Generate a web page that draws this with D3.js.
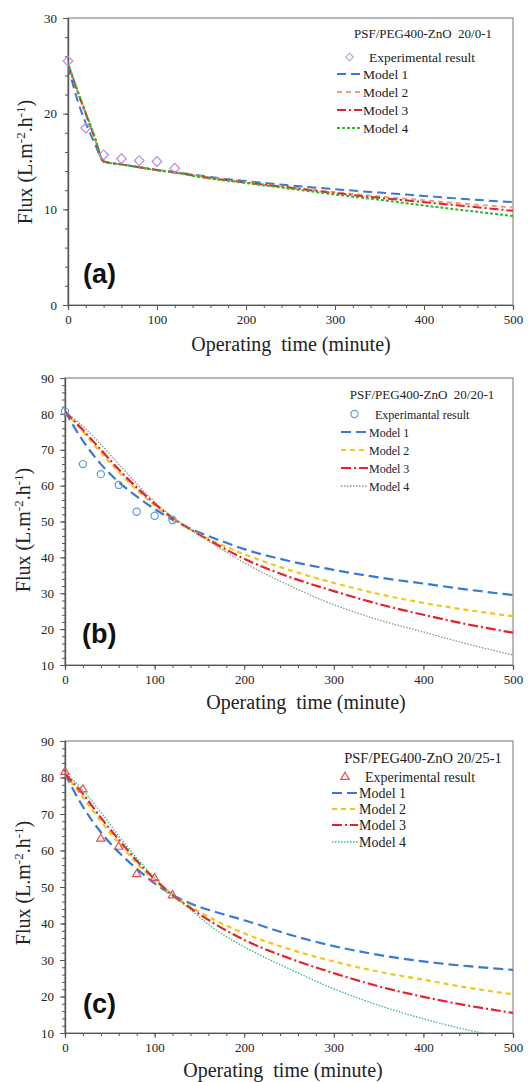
<!DOCTYPE html>
<meta charset="utf-8">
<style>
body{margin:0;background:#fff;}
svg text{font-family:"Liberation Serif","Times New Roman",serif;fill:#222;}
.plabel{font-family:"Liberation Sans",Arial,sans-serif !important;font-weight:bold;font-size:27px;fill:#111;}
</style>
<body>
<script src="https://cdnjs.cloudflare.com/ajax/libs/d3/7.8.5/d3.min.js"></script>
<script>

// panel (a) PSF/PEG400-ZnO 20/0-1
var expTimeA=[0,20,40,60,80,100,120];
var expFluxA=[25.5,18.5,15.7,15.3,15.1,15.0,14.3];
var modTimeA=[0,10,20,30,40,60,80,100,120,150,200,250,300,350,400,450,500];
var m1A=[25.0,21.6,19.0,16.9,15.0,14.7,14.4,14.1,13.9,13.5,12.95,12.5,12.1,11.75,11.4,11.05,10.75];
var m2A=[25.2,22.5,19.9,17.4,15.0,14.7,14.4,14.1,13.9,13.45,12.85,12.3,11.8,11.35,10.95,10.55,10.2];
var m3A=[25.2,22.5,20.0,17.5,15.0,14.7,14.4,14.1,13.85,13.4,12.8,12.25,11.7,11.2,10.75,10.3,9.85];
var m4A=[25.3,22.6,20.1,17.6,15.0,14.7,14.4,14.1,13.85,13.35,12.75,12.15,11.55,11.0,10.4,9.85,9.3];

// panel (b) PSF/PEG400-ZnO 20/20-1
var expTimeB=[0,20,40,60,80,100,120];
var expFluxB=[80.7,66.0,63.2,60.2,52.7,51.6,50.4];
var modTimeB=[0,20,40,60,80,100,120,140,170,200,250,300,350,400,450,500];
var m1B=[80.7,72.5,66.0,61.0,57.0,53.5,50.5,48.0,45.0,42.3,39.0,36.5,34.4,32.7,31.0,29.5];
var m2B=[80.7,75.0,69.2,63.8,58.8,54.5,50.8,47.8,44.0,40.9,36.5,32.9,29.8,27.3,25.3,23.6];
var m3B=[80.7,75.5,70.0,64.5,59.5,55.0,51.0,47.8,43.5,39.6,34.6,30.6,27.0,24.0,21.3,19.0];
var m4B=[80.7,76.5,71.5,66.0,60.5,55.5,51.3,47.8,43.0,38.5,32.2,26.8,22.6,19.2,15.8,12.8];

// panel (c) PSF/PEG400-ZnO 20/25-1
var expTimeC=[0,20,40,60,80,100,120];
var expFluxC=[81.5,76.7,63.2,61.0,53.5,52.4,47.7];
var modTimeC=[0,20,40,60,80,100,120,140,170,200,250,300,350,400,450,500];
var m1C=[81.0,72.0,65.0,59.5,55.0,51.0,47.8,45.5,43.0,40.9,37.0,33.8,31.4,29.6,28.3,27.3];
var m2C=[81.0,74.5,68.0,62.0,56.5,51.8,47.8,44.6,40.6,37.3,33.0,29.6,26.8,24.6,22.4,20.6];
var m3C=[81.0,75.5,69.0,63.0,57.2,52.2,47.8,44.2,39.5,35.5,30.5,26.4,22.8,19.9,17.5,15.5];
var m4C=[81.5,76.5,70.5,64.0,58.0,52.6,48.0,43.8,38.0,33.6,27.6,22.1,17.6,13.9,10.8,8.5];

var modelNames=["Model 1","Model 2","Model 3","Model 4"];
var serif="Liberation Serif, Times New Roman, serif";

var svg=d3.select("body").append("svg").attr("width",528).attr("height",1082);

var panels=[
 {id:"a",left:68,right:513,top:18,bottom:305,ydom:[0,30],
  title:"PSF/PEG400-ZnO  20/0-1",expName:"Experimental result",marker:"diamond",mcol:"#b98be0",
  et:expTimeA,ef:expFluxA,mt:modTimeA,models:[m1A,m2A,m3A,m4A],
  colors:["#3a78d6","#f0a070","#e8202a","#2fb52f"],
  dash:["9,5","5,4","9,3,2,3","3,2"],widths:[2,2,2,2],
  tx:423,ty:38,lx0:337,lx1:362,textX:363,rows:[57,74,92,110,128],fs:13.5,tfs:13,
  plx:83,ply:283,ylx:25,yly:162,xlx:291,xly:351},
 {id:"b",left:65,right:513,top:378,bottom:665,ydom:[10,90],
  title:"PSF/PEG400-ZnO  20/20-1",expName:"Experimantal result",marker:"circle",mcol:"#5b9bd5",
  et:expTimeB,ef:expFluxB,mt:modTimeB,models:[m1B,m2B,m3B,m4B],
  colors:["#3a78d6","#f5c518","#e8202a","#8a9a7a"],
  dash:["10,5","5,4","10,3,2,3","1.5,1.5"],widths:[2.2,2.2,2.2,1.3],
  tx:422,ty:399,lx0:341,lx1:368,textX:369,rows:[414,432,450,468,486],fs:12,tfs:13,
  plx:82,ply:643,ylx:23,yly:530,xlx:306,xly:709},
 {id:"c",left:65,right:513,top:741,bottom:1033,ydom:[10,90],
  title:"PSF/PEG400-ZnO 20/25-1",expName:"Experimental result",marker:"triangle",mcol:"#e0505a",
  et:expTimeC,ef:expFluxC,mt:modTimeC,models:[m1C,m2C,m3C,m4C],
  colors:["#3a78d6","#f5c518","#e8202a","#3cb878"],
  dash:["10,5","5,4","10,3,2,3","1.5,1.5"],widths:[2.2,2.2,2.2,1.3],
  tx:423,ty:763,lx0:332,lx1:358,textX:359,rows:[777,793,809,825,842],fs:14,tfs:14.5,
  plx:83,ply:1013,ylx:23,yly:883,xlx:283,xly:1077}
];

function addMarker(sel,type,col){
  var m;
  if(type=="diamond"){
    m=sel.append("rect").attr("x",-3.4).attr("y",-3.4).attr("width",6.8).attr("height",6.8)
      .attr("transform-origin","0 0");
  }else if(type=="triangle"){
    m=sel.append("path").attr("d",d3.symbol().type(d3.symbolTriangle).size(30)());
  }else{
    m=sel.append("circle").attr("r",3.6);
  }
  return m.attr("fill","none").attr("stroke",col).attr("stroke-width",1.2);
}

panels.forEach(function(p){
  var x=d3.scaleLinear().domain([0,500]).range([p.left,p.right]);
  var y=d3.scaleLinear().domain(p.ydom).range([p.bottom,p.top]);
  var g=svg.append("g");

  g.append("clipPath").attr("id","clip"+p.id).append("rect")
    .attr("x",p.left).attr("y",p.top).attr("width",p.right-p.left).attr("height",p.bottom-p.top);

  // frame
  g.append("rect").attr("x",p.left).attr("y",p.top).attr("width",p.right-p.left).attr("height",p.bottom-p.top)
    .attr("fill","none").attr("stroke","#8a8a8a").attr("stroke-width",1.2);

  // minor ticks
  var xm=d3.axisBottom(x).tickValues(d3.range(0,501,20)).tickSize(3).tickFormat("");
  var ym=d3.axisLeft(y).tickValues(d3.range(p.ydom[0],p.ydom[1]+1,2)).tickSize(3).tickFormat("");
  g.append("g").attr("transform","translate(0,"+p.bottom+")").call(xm);
  g.append("g").attr("transform","translate("+p.left+",0)").call(ym);

  var xa=d3.axisBottom(x).tickValues(d3.range(0,501,100)).tickSize(5).tickPadding(5);
  var ya=d3.axisLeft(y).tickValues(d3.range(p.ydom[0],p.ydom[1]+1,10)).tickSize(5).tickPadding(6);
  g.append("g").attr("transform","translate(0,"+p.bottom+")").call(xa);
  g.append("g").attr("transform","translate("+p.left+",0)").call(ya);
  g.selectAll(".domain").attr("stroke","#555").attr("stroke-width",1.2);
  g.selectAll(".tick line").attr("stroke","#555");
  g.selectAll(".tick text").attr("font-family",serif).attr("font-size",13).attr("fill","#222");

  // model lines
  var line=d3.line().x((d,i)=>x(p.mt[i])).y(d=>y(d)).curve(d3.curveMonotoneX);
  var lg=g.append("g").attr("clip-path","url(#clip"+p.id+")");
  p.models.forEach(function(m,k){
    lg.append("path").attr("d",line(m)).attr("fill","none")
      .attr("stroke",p.colors[k]).attr("stroke-width",p.widths[k])
      .attr("stroke-dasharray",p.dash[k]);
  });

  // experimental points
  p.ef.forEach(function(d,i){
    var pg=g.append("g").attr("transform","translate("+x(p.et[i])+","+y(d)+")");
    var mk=addMarker(pg,p.marker,p.mcol);
    if(p.marker=="diamond") mk.attr("transform","rotate(45)");
  });

  // legend
  var leg=g.append("g").attr("font-family",serif);
  leg.append("text").attr("x",p.tx).attr("y",p.ty).attr("text-anchor","middle")
    .attr("font-size",p.tfs).attr("xml:space","preserve").text(p.title);
  var lm=leg.append("g").attr("transform","translate("+((p.lx0+p.lx1)/2)+","+p.rows[0]+")");
  var mk=addMarker(lm,p.marker,p.mcol);
  if(p.marker=="diamond") mk.attr("transform","rotate(45) scale(0.8)");
  leg.append("text").attr("x",p.textX+6).attr("y",p.rows[0]+4.5).attr("font-size",p.fs).text(p.expName);
  modelNames.forEach(function(n,k){
    var yy=p.rows[k+1];
    leg.append("line").attr("x1",p.lx0).attr("x2",p.lx1).attr("y1",yy).attr("y2",yy)
      .attr("stroke",p.colors[k]).attr("stroke-width",p.widths[k]).attr("stroke-dasharray",p.dash[k]);
    leg.append("text").attr("x",p.textX).attr("y",yy+4.5).attr("font-size",p.fs).text(n);
  });

  // panel label
  g.append("text").attr("class","plabel").attr("x",p.plx).attr("y",p.ply).text("("+p.id+")");

  // axis titles
  g.append("text").attr("x",p.xlx).attr("y",p.xly).attr("text-anchor","middle")
    .attr("font-family",serif).attr("font-size",20).attr("xml:space","preserve").text("Operating  time (minute)");
  var yt=g.append("text").attr("transform","translate("+p.ylx+","+p.yly+") rotate(-90)")
    .attr("text-anchor","middle").attr("dy","0.35em").attr("font-family",serif).attr("font-size",20);
  yt.append("tspan").text("Flux (L.m");
  yt.append("tspan").attr("dy","-7").attr("font-size",13).text("-2");
  yt.append("tspan").attr("dy","7").text(".h");
  yt.append("tspan").attr("dy","-7").attr("font-size",13).text("-1");
  yt.append("tspan").attr("dy","7").text(")");
});
</script>
</body>
</html>
